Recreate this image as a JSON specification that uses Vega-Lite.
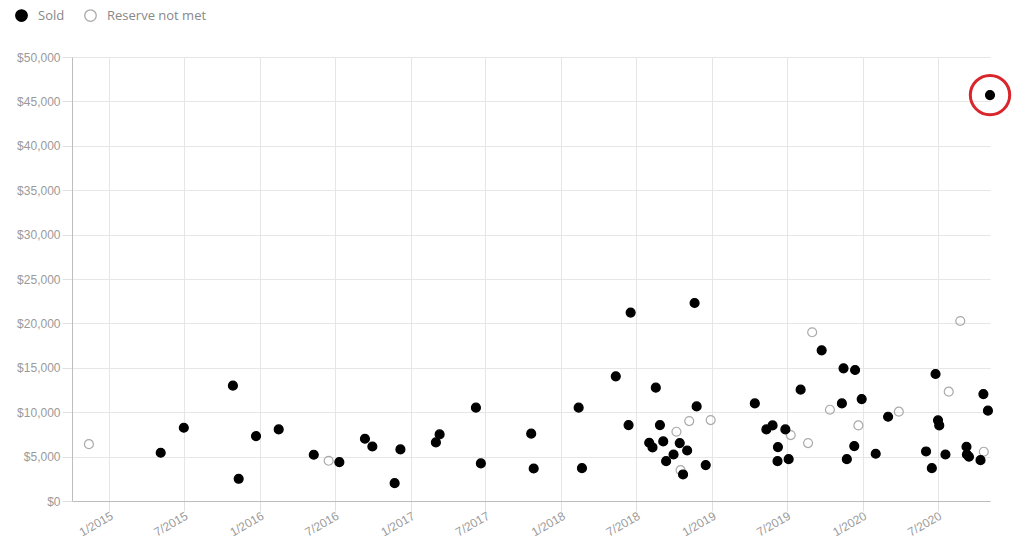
{
  "$schema": "https://vega.github.io/schema/vega-lite/v6.json",
  "width": 918,
  "height": 444,
  "autosize": {"type": "none"},
  "padding": {"left": 72, "top": 57, "right": 34, "bottom": 51},
  "background": "#ffffff",
  "data": {
    "values": [
      {"date": "2014-11-13", "price": 6400, "status": "Reserve not met"},
      {"date": "2016-06-16", "price": 4530, "status": "Reserve not met"},
      {"date": "2018-10-07", "price": 7800, "status": "Reserve not met"},
      {"date": "2018-10-17", "price": 3470, "status": "Reserve not met"},
      {"date": "2018-11-07", "price": 9000, "status": "Reserve not met"},
      {"date": "2018-12-29", "price": 9110, "status": "Reserve not met"},
      {"date": "2019-07-11", "price": 7420, "status": "Reserve not met"},
      {"date": "2019-08-22", "price": 6520, "status": "Reserve not met"},
      {"date": "2019-09-01", "price": 19000, "status": "Reserve not met"},
      {"date": "2019-10-14", "price": 10280, "status": "Reserve not met"},
      {"date": "2019-12-22", "price": 8510, "status": "Reserve not met"},
      {"date": "2020-03-29", "price": 10060, "status": "Reserve not met"},
      {"date": "2020-07-28", "price": 12310, "status": "Reserve not met"},
      {"date": "2020-08-25", "price": 20270, "status": "Reserve not met"},
      {"date": "2020-10-21", "price": 5550, "status": "Reserve not met"},
      {"date": "2015-05-06", "price": 5430, "status": "Sold"},
      {"date": "2015-07-01", "price": 8250, "status": "Sold"},
      {"date": "2015-10-28", "price": 12990, "status": "Sold"},
      {"date": "2015-11-11", "price": 2500, "status": "Sold"},
      {"date": "2015-12-23", "price": 7310, "status": "Sold"},
      {"date": "2016-02-16", "price": 8060, "status": "Sold"},
      {"date": "2016-05-11", "price": 5210, "status": "Sold"},
      {"date": "2016-07-12", "price": 4370, "status": "Sold"},
      {"date": "2016-09-12", "price": 7010, "status": "Sold"},
      {"date": "2016-09-30", "price": 6140, "status": "Sold"},
      {"date": "2016-11-23", "price": 2010, "status": "Sold"},
      {"date": "2016-12-07", "price": 5810, "status": "Sold"},
      {"date": "2017-03-03", "price": 6600, "status": "Sold"},
      {"date": "2017-03-12", "price": 7500, "status": "Sold"},
      {"date": "2017-06-08", "price": 10510, "status": "Sold"},
      {"date": "2017-06-20", "price": 4230, "status": "Sold"},
      {"date": "2017-10-20", "price": 7580, "status": "Sold"},
      {"date": "2017-10-26", "price": 3660, "status": "Sold"},
      {"date": "2018-02-12", "price": 10510, "status": "Sold"},
      {"date": "2018-02-20", "price": 3700, "status": "Sold"},
      {"date": "2018-05-13", "price": 14040, "status": "Sold"},
      {"date": "2018-06-13", "price": 8550, "status": "Sold"},
      {"date": "2018-06-18", "price": 21220, "status": "Sold"},
      {"date": "2018-08-02", "price": 6560, "status": "Sold"},
      {"date": "2018-08-10", "price": 6030, "status": "Sold"},
      {"date": "2018-08-18", "price": 12760, "status": "Sold"},
      {"date": "2018-08-28", "price": 8550, "status": "Sold"},
      {"date": "2018-09-05", "price": 6710, "status": "Sold"},
      {"date": "2018-09-12", "price": 4490, "status": "Sold"},
      {"date": "2018-09-30", "price": 5240, "status": "Sold"},
      {"date": "2018-10-15", "price": 6520, "status": "Sold"},
      {"date": "2018-10-23", "price": 2990, "status": "Sold"},
      {"date": "2018-11-02", "price": 5690, "status": "Sold"},
      {"date": "2018-11-20", "price": 22300, "status": "Sold"},
      {"date": "2018-11-25", "price": 10650, "status": "Sold"},
      {"date": "2018-12-17", "price": 4040, "status": "Sold"},
      {"date": "2019-04-15", "price": 10990, "status": "Sold"},
      {"date": "2019-05-13", "price": 8060, "status": "Sold"},
      {"date": "2019-05-28", "price": 8510, "status": "Sold"},
      {"date": "2019-06-09", "price": 4490, "status": "Sold"},
      {"date": "2019-06-10", "price": 6070, "status": "Sold"},
      {"date": "2019-06-28", "price": 8060, "status": "Sold"},
      {"date": "2019-07-06", "price": 4710, "status": "Sold"},
      {"date": "2019-08-04", "price": 12540, "status": "Sold"},
      {"date": "2019-09-24", "price": 16970, "status": "Sold"},
      {"date": "2019-11-12", "price": 10990, "status": "Sold"},
      {"date": "2019-11-16", "price": 14940, "status": "Sold"},
      {"date": "2019-11-24", "price": 4710, "status": "Sold"},
      {"date": "2019-12-12", "price": 6180, "status": "Sold"},
      {"date": "2019-12-14", "price": 14750, "status": "Sold"},
      {"date": "2019-12-30", "price": 11480, "status": "Sold"},
      {"date": "2020-02-02", "price": 5320, "status": "Sold"},
      {"date": "2020-03-03", "price": 9490, "status": "Sold"},
      {"date": "2020-06-03", "price": 5580, "status": "Sold"},
      {"date": "2020-06-17", "price": 3700, "status": "Sold"},
      {"date": "2020-06-26", "price": 14300, "status": "Sold"},
      {"date": "2020-07-02", "price": 9080, "status": "Sold"},
      {"date": "2020-07-05", "price": 8510, "status": "Sold"},
      {"date": "2020-07-20", "price": 5240, "status": "Sold"},
      {"date": "2020-09-09", "price": 6110, "status": "Sold"},
      {"date": "2020-09-10", "price": 5240, "status": "Sold"},
      {"date": "2020-09-15", "price": 4980, "status": "Sold"},
      {"date": "2020-10-13", "price": 4600, "status": "Sold"},
      {"date": "2020-10-20", "price": 12040, "status": "Sold"},
      {"date": "2020-10-31", "price": 10170, "status": "Sold"},
      {"date": "2020-11-05", "price": 45710, "status": "Sold"}
    ]
  },
  "encoding": {
    "x": {
      "field": "date",
      "type": "temporal",
      "scale": {
        "type": "utc",
        "domain": [
          {"year": 2014, "month": 10, "date": 3, "utc": true},
          {"year": 2020, "month": 11, "date": 5, "utc": true}
        ]
      },
      "axis": {
        "title": null,
        "format": "%-m/%Y",
        "values": [
          {"year": 2015, "month": 1, "date": 1, "utc": true},
          {"year": 2015, "month": 7, "date": 1, "utc": true},
          {"year": 2016, "month": 1, "date": 1, "utc": true},
          {"year": 2016, "month": 7, "date": 1, "utc": true},
          {"year": 2017, "month": 1, "date": 1, "utc": true},
          {"year": 2017, "month": 7, "date": 1, "utc": true},
          {"year": 2018, "month": 1, "date": 1, "utc": true},
          {"year": 2018, "month": 7, "date": 1, "utc": true},
          {"year": 2019, "month": 1, "date": 1, "utc": true},
          {"year": 2019, "month": 7, "date": 1, "utc": true},
          {"year": 2020, "month": 1, "date": 1, "utc": true},
          {"year": 2020, "month": 7, "date": 1, "utc": true}
        ],
        "labelAngle": -30,
        "labelAlign": "right",
        "labelBaseline": "top",
        "labelPadding": -1
      }
    },
    "y": {
      "field": "price",
      "type": "quantitative",
      "scale": {"domain": [0, 50000], "nice": false, "zero": true},
      "axis": {
        "title": null,
        "format": "$,.0f",
        "values": [0, 5000, 10000, 15000, 20000, 25000, 30000, 35000, 40000, 45000, 50000],
        "labelPadding": 2
      }
    }
  },
  "layer": [
    {
      "mark": {"type": "point", "shape": "circle", "filled": true, "size": 80, "strokeWidth": 1.2, "opacity": 1},
      "encoding": {
        "fill": {
          "field": "status",
          "type": "nominal",
          "scale": {"domain": ["Sold", "Reserve not met"], "range": ["#000000", "rgba(255,255,255,0)"]},
          "legend": {"title": null}
        },
        "stroke": {
          "field": "status",
          "type": "nominal",
          "scale": {"domain": ["Sold", "Reserve not met"], "range": ["#000000", "#aaaaaa"]},
          "legend": {"title": null}
        }
      }
    },
    {
      "transform": [{"filter": "datum.price > 40000"}],
      "mark": {"type": "point", "shape": "circle", "filled": false, "size": 1550, "stroke": "#d9262c", "strokeWidth": 3, "opacity": 1},
      "encoding": {}
    }
  ],
  "config": {
    "view": {"stroke": null},
    "axis": {
      "domainColor": "#bdbdbd",
      "domainWidth": 1,
      "gridColor": "#e6e6e6",
      "gridWidth": 1,
      "tickColor": "#e0e0e0",
      "tickSize": 10,
      "labelColor": "#9a9a9a",
      "labelFont": "Liberation Sans",
      "labelFontSize": 12
    },
    "legend": {
      "orient": "none",
      "legendX": -57,
      "legendY": -48,
      "direction": "horizontal",
      "padding": 0,
      "symbolSize": 133,
      "symbolStrokeWidth": 1.3,
      "labelFont": "Open Sans",
      "labelFontSize": 13,
      "labelColor": "#888888",
      "labelOffset": 10,
      "columnPadding": 17,
      "symbolOpacity": 1
    }
  }
}
